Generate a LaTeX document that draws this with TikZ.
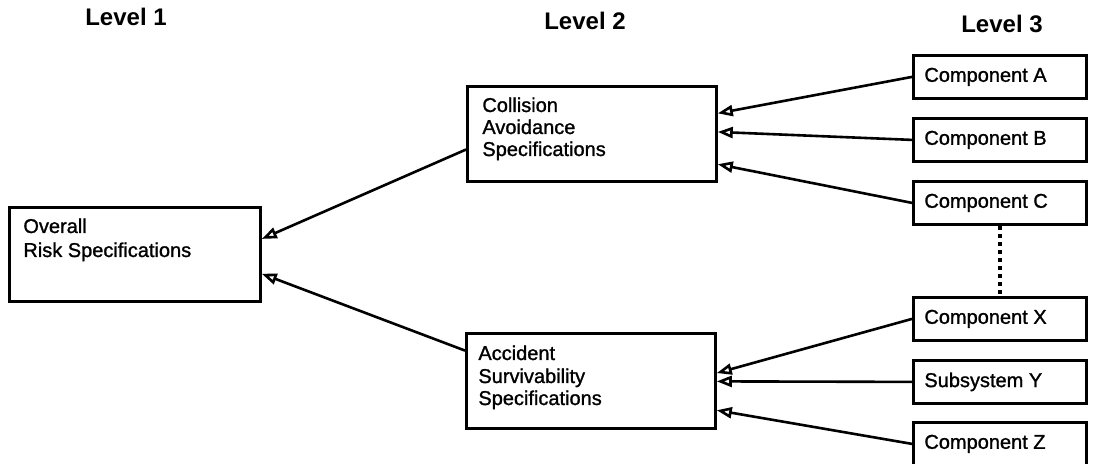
\documentclass[tikz,border=0pt]{standalone}
\usepackage{fontspec}
\setmainfont{Liberation Sans}
\newfontfamily\boxfont{Liberation Sans}[FakeBold=1.2]
\usetikzlibrary{arrows.meta,calc}
\begin{document}
\begin{tikzpicture}[x=0.5pt,y=-0.5pt,
  box/.style={draw, line width=1.4pt, inner sep=0pt, anchor=north west},
  lbl/.style={anchor=base west, inner sep=0pt, font=\boxfont\fontsize{10}{12}\selectfont},
  lvl/.style={anchor=base, inner sep=0pt, font=\fontsize{12}{14}\selectfont\bfseries},
  arr/.style={line width=1.3pt, -{Triangle[open, length=7.5pt, width=5.5pt, fill=white]}},
  dots/.style={line width=1.6pt, dash pattern=on 2pt off 2pt}]
\useasboundingbox (0,0) rectangle (1093,464);
% level labels
\node[lvl] (l1) at (126,26) {Level 1};
\node[lvl] (l2) at (585,30) {Level 2};
\node[lvl] (l3) at (1002,33) {Level 3};
% level 1
\node[box, minimum width=125.5pt, minimum height=47pt] (ov) at (8,206) {};
\node[lbl] (ovt1) at (23,233) {Overall};
\node[lbl] (ovt2) at (23,257) {Risk Specifications};
% level 2
\node[box, minimum width=124.5pt, minimum height=47.5pt] (co) at (466,85) {};
\node[lbl] (cot1) at (482,112) {Collision};
\node[lbl] (cot2) at (482,134) {Avoidance};
\node[lbl] (cot3) at (482,156) {Specifications};
\node[box, minimum width=124.5pt, minimum height=47.5pt] (ac) at (465,332) {};
\node[lbl] (act1) at (478,360) {Accident};
\node[lbl] (act2) at (478,383) {Survivability};
\node[lbl] (act3) at (478,405) {Specifications};
% level 3
\foreach \n/\y/\t in {cA/54/Component A, cB/117/Component B, cC/180/Component C,
                       cX/296/Component X, cY/359/Subsystem Y, cZ/421/Component Z}{
  \node[box, minimum width=86.5pt, minimum height=21.5pt] (\n) at (912,\y) {};
  \node[anchor=west, inner sep=0pt, font=\boxfont\fontsize{10}{12}\selectfont] (\n t) at ([xshift=6pt]\n.west) {\t};
}
% connectors
\draw[dots] (cC.south) -- (cX.north);
\draw[arr] (cA.west) -- ($(co.north east)!0.29!(co.south east)$);
\draw[arr] (cB.west) -- ($(co.north east)!0.48!(co.south east)$);
\draw[arr] (cC.west) -- ($(co.north east)!0.81!(co.south east)$);
\draw[arr] (cX.west) -- ($(ac.north east)!0.42!(ac.south east)$);
\draw[arr] (cY.west) -- ($(ac.north east)!0.505!(ac.south east)$);
\draw[arr] (cZ.west) -- ($(ac.north east)!0.80!(ac.south east)$);
\draw[arr] ($(co.north west)!0.66!(co.south west)$) -- ($(ov.north east)!0.34!(ov.south east)$);
\draw[arr] ($(ac.north west)!0.19!(ac.south west)$) -- ($(ov.north east)!0.70!(ov.south east)$);
\end{tikzpicture}
\end{document}
